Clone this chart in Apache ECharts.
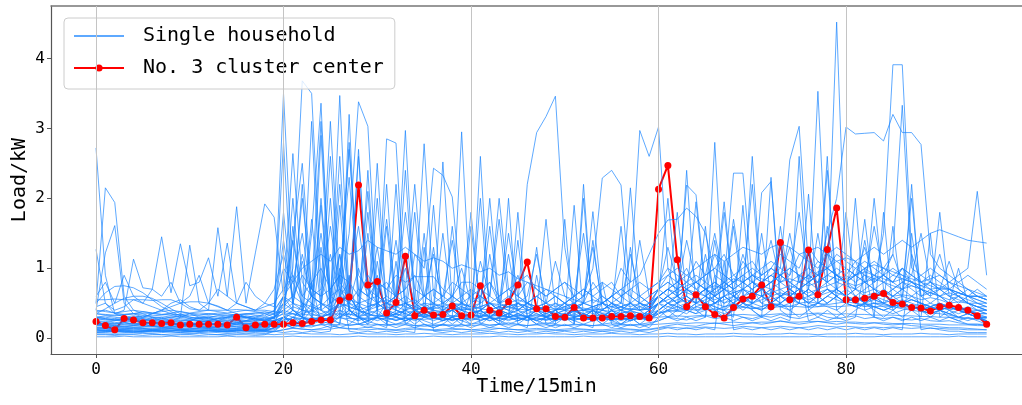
<!DOCTYPE html>
<html><head><meta charset="utf-8">
<script src="https://cdn.jsdelivr.net/npm/echarts@6/dist/echarts.min.js"></script>
<style>html,body{margin:0;padding:0;background:#fff}#c{width:1022px;height:405px}</style>
</head><body><div id="c"></div>
<script>
const xTicks = [0, 20, 40, 60, 80];
const yTicks = [0, 1, 2, 3, 4];
const seriesNames = ['Single household', 'No. 3 cluster center'];

const center = [
0.24,0.18,0.12,0.28,0.26,0.22,0.22,0.21,0.22,0.19,0.20,0.20,
0.20,0.20,0.19,0.30,0.15,0.19,0.20,0.20,0.20,0.22,0.21,0.24,
0.26,0.26,0.54,0.59,2.19,0.76,0.81,0.36,0.51,1.17,0.32,0.40,
0.33,0.34,0.46,0.32,0.33,0.75,0.40,0.36,0.52,0.76,1.09,0.42,
0.42,0.31,0.30,0.44,0.29,0.29,0.29,0.31,0.31,0.32,0.31,0.29,
2.13,2.47,1.12,0.45,0.62,0.45,0.34,0.29,0.44,0.56,0.60,0.76,
0.45,1.37,0.55,0.60,1.26,0.62,1.27,1.86,0.55,0.55,0.57,0.60,
0.64,0.51,0.49,0.44,0.43,0.39,0.45,0.47,0.44,0.40,0.32,0.20];

const hB1 = [0.02,0.02,0.02,0.03,0.02,0.02,0.02,0.02,0.03,0.02,0.02,0.02,0.02,0.02,0.03,0.02,0.02,0.02,0.02,0.02,0.02,0.03,0.02,0.02,0.02,0.02,0.02,0.02,0.03,0.02,0.02,0.02,0.02,0.02,0.02,0.02,0.03,0.02,0.02,0.02,0.02,0.02,0.02,0.03,0.02,0.02,0.02,0.02,0.02,0.02,0.02,0.02,0.03,0.02,0.02,0.02,0.02,0.02,0.02,0.02,0.02,0.03,0.02,0.02,0.02,0.02,0.02,0.02,0.03,0.02,0.02,0.02,0.02,0.02,0.02,0.02,0.02,0.03,0.02,0.02,0.02,0.02,0.02,0.02,0.03,0.02,0.02,0.02,0.02,0.02,0.02,0.02,0.03,0.02,0.02,0.02];
const hB2 = [0.06,0.06,0.05,0.06,0.06,0.07,0.06,0.05,0.06,0.06,0.06,0.07,0.06,0.05,0.06,0.06,0.07,0.06,0.06,0.05,0.06,0.06,0.07,0.06,0.06,0.06,0.05,0.06,0.07,0.06,0.06,0.06,0.05,0.06,0.06,0.07,0.06,0.06,0.05,0.06,0.06,0.06,0.07,0.06,0.06,0.05,0.06,0.06,0.07,0.06,0.06,0.05,0.06,0.06,0.06,0.07,0.06,0.06,0.05,0.06,0.06,0.07,0.06,0.06,0.05,0.06,0.06,0.06,0.07,0.06,0.06,0.05,0.06,0.06,0.07,0.06,0.06,0.05,0.06,0.06,0.06,0.07,0.06,0.06,0.05,0.06,0.06,0.06,0.07,0.06,0.06,0.05,0.06,0.06,0.06,0.06];
const hB3 = [0.12,0.11,0.1,0.1,0.09,0.09,0.1,0.1,0.11,0.1,0.1,0.09,0.09,0.1,0.1,0.11,0.12,0.11,0.1,0.1,0.12,0.14,0.13,0.12,0.12,0.13,0.15,0.14,0.12,0.12,0.13,0.12,0.11,0.12,0.13,0.12,0.11,0.11,0.12,0.13,0.12,0.11,0.12,0.14,0.13,0.12,0.11,0.12,0.12,0.11,0.11,0.12,0.12,0.11,0.1,0.11,0.12,0.12,0.11,0.12,0.14,0.16,0.15,0.14,0.15,0.16,0.15,0.14,0.15,0.17,0.16,0.15,0.16,0.17,0.16,0.15,0.16,0.18,0.17,0.16,0.17,0.16,0.15,0.16,0.15,0.16,0.15,0.14,0.15,0.14,0.14,0.13,0.13,0.12,0.12,0.12];
const hB4 = [0.55,0.55,0.56,0.55,0.55,0.55,0.54,0.55,0.55,0.5,0.42,0.4,0.4,0.4,0.4,0.41,0.4,0.4,0.4,0.38,0.36,0.35,0.34,0.33,0.33,0.34,0.35,0.34,0.33,0.33,0.32,0.33,0.34,0.33,0.32,0.32,0.33,0.32,0.32,0.31,0.32,0.33,0.32,0.32,0.31,0.32,0.32,0.33,0.32,0.32,0.33,0.32,0.31,0.32,0.32,0.33,0.32,0.32,0.31,0.32,0.36,0.38,0.4,0.42,0.4,0.41,0.42,0.4,0.42,0.44,0.43,0.42,0.44,0.45,0.46,0.45,0.44,0.45,0.46,0.45,0.46,0.47,0.46,0.45,0.46,0.45,0.44,0.45,0.44,0.43,0.42,0.42,0.41,0.4,0.4,0.4];
const hB5 = [0.28,0.27,0.27,0.26,0.26,0.25,0.26,0.26,0.25,0.25,0.26,0.25,0.25,0.25,0.24,0.25,0.25,0.26,0.25,0.25,0.26,0.27,0.28,0.27,0.27,0.28,0.29,0.28,0.28,0.27,0.28,0.28,0.27,0.28,0.27,0.27,0.28,0.27,0.27,0.28,0.27,0.27,0.28,0.28,0.27,0.28,0.27,0.27,0.27,0.28,0.27,0.27,0.28,0.27,0.27,0.27,0.28,0.27,0.27,0.28,0.3,0.31,0.32,0.31,0.32,0.33,0.32,0.32,0.33,0.34,0.33,0.33,0.34,0.35,0.34,0.34,0.35,0.36,0.35,0.34,0.35,0.34,0.34,0.33,0.33,0.33,0.32,0.32,0.31,0.31,0.3,0.3,0.29,0.29,0.28,0.28];
const hB6 = [0.18,0.18,0.17,0.17,0.18,0.17,0.17,0.16,0.17,0.17,0.16,0.17,0.17,0.16,0.16,0.17,0.17,0.16,0.17,0.18,0.18,0.19,0.18,0.18,0.19,0.2,0.19,0.19,0.2,0.19,0.19,0.2,0.19,0.19,0.18,0.19,0.19,0.18,0.19,0.19,0.18,0.19,0.19,0.2,0.19,0.19,0.18,0.19,0.19,0.18,0.18,0.19,0.19,0.18,0.18,0.19,0.19,0.18,0.19,0.19,0.2,0.21,0.22,0.21,0.22,0.22,0.21,0.22,0.23,0.22,0.22,0.23,0.23,0.24,0.23,0.23,0.24,0.24,0.23,0.24,0.23,0.23,0.22,0.22,0.22,0.21,0.21,0.21,0.2,0.2,0.2,0.19,0.19,0.19,0.18,0.18];
const hW1 = [0.5,0.65,0.74,0.75,0.72,0.65,0.55,0.45,0.38,0.32,0.28,0.25,0.22,0.2,0.2,0.22,0.24,0.22,0.2,0.21,0.25,0.3,0.28,0.26,0.3,0.35,0.5,0.45,0.4,0.35,0.32,0.3,0.35,0.4,0.35,0.3,0.28,0.3,0.32,0.3,0.28,0.3,0.35,0.32,0.3,0.28,0.3,0.32,0.3,0.28,0.27,0.3,0.32,0.3,0.28,0.27,0.28,0.3,0.29,0.28,0.35,0.45,0.5,0.55,0.5,0.45,0.5,0.55,0.6,0.55,0.5,0.55,0.6,0.65,0.6,0.55,0.6,0.65,0.7,0.65,0.6,0.55,0.6,0.65,0.6,0.55,0.5,0.55,0.5,0.45,0.5,0.45,0.4,0.4,0.35,0.35];
const hW2 = [0.35,0.42,0.5,0.57,0.6,0.6,0.57,0.5,0.42,0.35,0.3,0.28,0.27,0.28,0.3,0.32,0.3,0.28,0.27,0.3,0.45,0.6,0.5,0.45,0.4,0.5,0.6,0.55,0.5,0.45,0.5,0.55,0.5,0.45,0.4,0.42,0.4,0.38,0.4,0.42,0.4,0.38,0.36,0.4,0.45,0.5,0.45,0.4,0.38,0.36,0.35,0.38,0.4,0.38,0.36,0.35,0.36,0.38,0.36,0.35,0.5,0.6,0.7,0.65,0.6,0.7,0.75,0.7,0.65,0.7,0.8,0.75,0.7,0.8,0.85,0.8,0.75,0.8,0.9,0.85,0.8,0.75,0.8,0.85,0.8,0.75,0.7,0.75,0.7,0.65,0.6,0.65,0.6,0.55,0.5,0.5];
const hW3 = [0.3,0.28,0.26,0.25,0.27,0.3,0.35,0.4,0.45,0.5,0.52,0.52,0.5,0.46,0.4,0.35,0.3,0.28,0.26,0.28,0.35,0.45,0.4,0.38,0.45,0.6,0.7,0.5,0.45,0.4,0.45,0.5,0.45,0.4,0.45,0.5,0.48,0.45,0.42,0.4,0.42,0.45,0.5,0.48,0.45,0.42,0.4,0.42,0.45,0.42,0.4,0.38,0.4,0.42,0.4,0.38,0.4,0.42,0.4,0.42,0.5,0.55,0.6,0.7,0.65,0.6,0.55,0.6,0.65,0.7,0.65,0.6,0.65,0.7,0.75,0.7,0.65,0.7,0.75,0.8,0.75,0.7,0.65,0.7,0.65,0.6,0.62,0.6,0.55,0.58,0.55,0.5,0.52,0.5,0.45,0.45];
const hW4 = [0.15,0.14,0.12,0.13,0.15,0.14,0.12,0.13,0.14,0.12,0.13,0.15,0.14,0.12,0.13,0.14,0.15,0.13,0.12,0.14,0.18,0.2,0.17,0.16,0.2,0.25,0.22,0.18,0.2,0.24,0.2,0.18,0.2,0.22,0.18,0.17,0.18,0.2,0.18,0.17,0.2,0.22,0.18,0.2,0.22,0.2,0.18,0.2,0.22,0.2,0.18,0.2,0.19,0.18,0.2,0.22,0.2,0.19,0.2,0.22,0.25,0.3,0.28,0.26,0.3,0.32,0.28,0.3,0.34,0.3,0.28,0.32,0.3,0.34,0.3,0.28,0.32,0.35,0.3,0.28,0.3,0.32,0.28,0.3,0.28,0.3,0.27,0.26,0.28,0.25,0.24,0.25,0.22,0.2,0.2,0.18];
const hW5 = [0.38,0.4,0.36,0.34,0.35,0.38,0.36,0.34,0.36,0.38,0.35,0.33,0.34,0.36,0.35,0.33,0.34,0.36,0.38,0.35,0.4,0.5,0.45,0.6,0.5,0.45,0.8,0.6,0.5,0.55,0.6,0.5,0.45,0.5,0.55,0.45,0.42,0.45,0.5,0.48,0.45,0.42,0.4,0.45,0.5,0.55,0.5,0.45,0.42,0.4,0.42,0.45,0.43,0.4,0.42,0.45,0.44,0.42,0.4,0.42,0.6,0.7,0.65,0.75,0.8,0.7,0.65,0.75,0.85,0.8,0.9,0.85,0.8,0.9,1.0,0.9,0.85,0.95,1.0,0.9,0.85,0.9,0.95,0.9,0.85,0.8,0.85,0.8,0.75,0.7,0.72,0.7,0.65,0.6,0.6,0.55];
const hW6 = [0.08,0.09,0.1,0.09,0.08,0.1,0.11,0.1,0.09,0.08,0.09,0.1,0.11,0.1,0.09,0.1,0.11,0.12,0.1,0.09,0.12,0.15,0.13,0.12,0.14,0.18,0.15,0.13,0.14,0.16,0.14,0.13,0.12,0.14,0.15,0.13,0.12,0.13,0.14,0.13,0.12,0.13,0.15,0.14,0.13,0.12,0.13,0.14,0.13,0.12,0.13,0.14,0.13,0.12,0.12,0.13,0.14,0.13,0.12,0.13,0.15,0.18,0.2,0.18,0.17,0.2,0.22,0.2,0.18,0.2,0.22,0.2,0.22,0.25,0.22,0.2,0.22,0.24,0.22,0.2,0.22,0.21,0.2,0.22,0.2,0.19,0.2,0.18,0.17,0.18,0.16,0.15,0.15,0.14,0.13,0.12];
const hS1 = [2.72,0.9,0.35,0.3,0.28,0.25,0.3,0.25,0.22,0.2,0.25,0.3,0.28,0.25,0.22,0.2,0.25,0.3,0.35,0.3,0.4,1.4,0.6,0.5,0.3,0.35,1.2,0.4,0.3,0.35,0.9,0.3,0.25,0.3,0.4,0.3,0.35,0.3,0.25,0.3,0.35,0.4,0.3,0.25,0.3,0.35,0.3,0.25,0.3,0.35,0.3,0.25,0.3,0.4,0.35,0.3,0.25,0.3,0.35,0.3,0.4,0.5,0.45,0.4,0.35,0.5,0.45,0.4,0.6,0.5,0.45,0.4,0.5,0.6,0.55,0.5,0.45,0.5,0.6,0.55,0.5,0.45,0.5,0.45,0.4,0.45,0.5,0.45,0.4,0.35,0.4,0.45,0.4,0.35,0.3,0.3];
const hS2 = [0.5,2.15,1.94,0.6,0.4,0.35,0.3,0.3,0.25,0.3,0.35,0.3,0.3,0.25,0.3,0.35,0.3,0.25,0.3,0.35,3.5,0.8,0.5,0.4,0.35,0.4,0.5,0.6,0.4,0.35,0.3,2.85,2.79,0.5,0.4,0.35,0.3,0.35,0.4,0.3,0.35,0.3,0.4,0.35,0.3,0.5,0.4,0.35,0.3,0.35,0.4,0.3,0.35,0.3,0.4,0.5,0.4,0.35,0.3,0.4,0.5,0.45,0.4,0.5,0.6,0.5,0.45,0.4,0.5,0.6,0.7,0.5,0.45,0.5,0.6,0.5,0.45,0.5,0.6,0.7,0.6,0.5,0.45,0.5,0.45,0.4,0.5,0.45,0.4,0.45,0.5,0.45,0.4,0.35,0.4,0.35];
const hS3 = [1.27,0.5,0.35,0.4,1.13,0.72,0.7,1.45,0.65,1.35,0.75,0.8,1.15,0.6,1.36,0.5,0.45,0.4,0.5,0.45,1.0,0.8,1.5,0.6,0.5,1.2,0.6,0.8,1.6,0.7,0.5,0.6,1.4,0.5,0.45,0.6,0.5,0.45,0.6,0.5,0.45,1.1,0.6,0.5,0.55,0.9,0.5,0.45,0.5,0.6,0.5,0.45,0.5,0.8,0.6,0.5,0.45,0.5,0.6,0.5,0.7,0.9,0.8,1.0,0.7,0.8,1.2,0.9,0.8,1.1,0.9,0.8,1.0,0.9,1.3,0.8,0.9,1.1,1.0,0.9,0.8,1.0,0.9,0.85,0.9,0.8,1.0,0.9,0.8,0.85,0.9,0.8,0.75,0.7,0.65,0.6];
const hS4 = [0.4,1.22,1.61,0.5,0.35,0.3,0.35,0.4,0.35,0.3,1.33,0.5,0.4,1.58,0.6,1.88,0.5,1.22,1.92,1.73,0.6,1.4,2.5,0.7,3.1,0.6,0.5,2.8,0.6,0.5,0.45,0.5,0.6,0.5,0.45,0.4,0.45,0.5,0.45,0.4,0.5,0.6,0.5,0.45,0.4,0.5,0.45,0.4,0.45,0.5,0.4,0.45,0.5,0.45,0.4,0.5,0.45,0.4,0.45,0.5,0.6,0.5,0.55,0.6,0.5,0.55,0.6,0.5,0.55,0.6,0.65,0.6,0.55,0.6,0.65,0.6,0.55,0.6,0.65,0.7,0.6,0.55,0.6,0.55,0.5,0.55,0.6,0.55,0.5,0.45,0.5,0.45,0.4,0.45,0.4,0.35];
const hS5 = [0.2,0.18,0.15,0.16,0.18,0.2,0.17,0.15,0.16,0.18,0.2,0.17,0.15,0.16,0.18,0.2,0.17,0.15,0.16,0.2,0.5,1.0,3.68,3.5,0.8,0.5,2.2,0.6,0.4,1.8,0.5,0.4,0.35,0.5,0.4,0.35,0.3,0.35,0.4,0.3,0.35,0.3,1.2,0.4,0.3,0.35,0.3,0.4,0.3,0.35,0.3,0.4,0.35,0.3,0.35,0.3,0.4,0.35,0.3,0.35,0.5,0.6,0.5,0.7,0.6,0.5,1.4,0.6,0.5,0.7,0.6,0.5,0.6,1.6,0.7,0.6,0.5,0.6,0.7,0.6,0.5,0.6,0.5,0.55,0.5,0.45,0.5,0.55,0.5,0.45,0.4,0.45,0.4,0.35,0.3,0.3];
const hS6 = [0.1,0.1,0.12,0.1,0.09,0.1,0.11,0.1,0.1,0.12,0.1,0.1,0.11,0.1,0.1,0.12,0.1,0.1,0.11,0.2,0.6,0.4,0.3,1.5,3.36,0.5,3.47,0.6,0.4,0.3,2.0,0.4,0.3,0.25,0.3,0.35,0.3,0.25,0.3,2.95,0.4,0.3,0.25,0.3,0.35,0.3,0.25,0.3,0.25,0.3,0.35,0.3,0.25,0.3,0.3,0.25,0.3,0.35,0.3,0.25,0.4,0.5,0.4,0.35,0.45,0.5,0.4,0.35,0.4,0.5,0.45,0.4,0.5,0.45,0.4,0.5,2.06,0.5,0.45,0.4,0.5,0.45,0.4,0.45,0.4,0.35,0.4,0.45,0.4,0.35,0.4,0.35,0.3,0.35,0.3,0.25];
const hS7 = [0.25,0.22,0.2,0.22,0.25,0.22,0.2,0.22,0.25,0.22,0.2,0.22,0.25,0.22,0.2,0.22,0.25,0.22,0.2,0.25,1.8,0.5,0.4,0.6,0.5,0.4,0.6,1.5,3.38,3.03,0.6,0.5,0.6,2.97,0.5,0.4,0.45,0.4,0.5,0.45,0.4,0.5,2.0,0.5,0.45,0.4,0.5,0.45,0.4,0.5,0.45,0.4,0.5,1.81,0.5,0.45,0.4,0.5,0.45,0.4,0.6,0.7,0.6,2.19,2.05,0.7,0.6,0.7,0.8,0.7,0.6,0.7,0.8,0.7,0.6,0.7,0.8,0.7,0.8,0.9,0.8,0.7,0.8,0.7,0.6,0.7,0.8,0.7,0.6,0.65,0.6,0.55,0.6,0.5,0.45,0.4];
const hS8 = [0.3,0.32,0.3,0.28,0.3,0.32,0.3,0.28,0.3,0.32,0.3,0.28,0.3,0.32,0.3,0.28,0.3,0.32,0.3,0.28,0.6,0.5,1.2,0.6,0.5,2.6,0.6,0.5,0.7,0.6,0.5,0.6,0.5,0.6,0.5,2.78,0.6,0.5,0.6,0.5,0.45,0.5,0.6,1.7,0.5,0.45,0.5,0.6,0.5,0.45,0.5,0.6,0.5,0.45,0.5,0.6,0.5,2.15,0.5,0.45,0.7,0.6,0.7,0.8,0.7,0.6,0.7,0.8,2.36,2.36,0.8,0.7,0.8,0.9,0.8,0.7,0.8,0.9,0.8,0.7,0.8,0.9,0.8,0.7,0.8,0.7,0.8,0.75,0.7,0.65,0.7,0.6,0.65,0.6,0.55,0.5];
const hS9 = [0.15,0.14,0.13,0.14,0.15,0.14,0.13,0.14,0.15,0.14,0.13,0.14,0.15,0.14,0.13,0.14,0.15,0.14,0.13,0.2,0.3,0.25,0.2,0.3,0.25,0.3,1.0,0.4,0.3,0.25,0.3,0.5,0.4,0.35,1.2,1.0,2.43,2.33,2.02,0.6,0.4,0.35,0.3,0.4,0.35,0.5,2.2,2.94,3.17,3.46,1.3,0.5,0.4,0.35,0.4,0.35,0.3,0.4,0.35,0.3,0.5,0.4,0.45,0.5,0.4,0.45,0.5,0.6,0.5,0.45,0.5,0.6,0.5,0.45,0.5,0.6,0.5,0.45,0.5,0.6,0.5,0.45,0.5,0.45,0.4,0.45,0.5,0.45,0.4,0.35,0.4,0.35,0.3,0.35,0.3,0.25];
const hS10 = [0.2,0.2,0.18,0.2,0.22,0.2,0.18,0.2,0.22,0.2,0.18,0.2,0.22,0.2,0.18,0.2,0.22,0.2,0.18,0.2,0.25,0.4,0.3,0.25,1.9,0.4,0.3,0.35,2.7,0.4,0.35,0.3,0.4,0.35,0.3,0.35,0.4,2.52,0.5,0.4,0.35,0.4,0.5,0.4,0.35,0.4,0.35,0.4,0.35,0.4,0.45,0.5,0.6,1.0,2.29,2.4,2.19,0.6,0.5,0.45,0.6,0.5,0.6,0.7,0.6,0.5,0.6,0.7,0.6,0.5,2.6,0.6,0.7,0.6,0.5,0.6,0.7,0.6,0.5,0.6,0.7,0.6,0.5,0.6,0.55,0.5,0.55,0.5,0.45,0.5,0.45,0.4,0.45,0.4,0.35,0.35];
const hS11 = [0.12,0.12,0.11,0.12,0.13,0.12,0.11,0.12,0.13,0.12,0.11,0.12,0.13,0.12,0.11,0.12,0.13,0.12,0.11,0.12,0.2,0.3,0.25,0.4,0.3,0.25,0.35,0.3,0.5,0.3,0.25,0.3,0.35,0.3,0.25,0.3,0.35,0.3,0.25,0.3,0.35,0.3,0.25,0.3,0.35,0.3,0.25,0.3,0.35,0.3,0.25,0.3,0.35,0.3,0.5,0.6,1.0,0.8,2.97,2.6,3.02,1.0,0.6,0.5,0.6,0.7,0.5,0.6,0.7,0.5,0.6,0.7,0.6,0.5,0.6,0.7,0.6,0.5,0.6,0.7,0.6,0.5,0.6,0.5,0.5,0.45,0.5,0.45,0.4,0.45,0.4,0.35,0.4,0.35,0.3,0.3];
const hS12 = [0.25,0.24,0.22,0.24,0.25,0.24,0.22,0.24,0.25,0.24,0.22,0.24,0.25,0.24,0.22,0.24,0.25,0.24,0.22,0.3,0.4,0.35,0.3,0.5,0.4,0.35,0.5,0.45,0.4,0.35,0.4,0.45,0.4,0.35,0.4,0.45,0.4,0.35,0.4,0.45,0.4,0.35,0.4,0.45,0.4,0.35,0.4,0.45,0.4,0.35,0.4,0.45,0.4,0.45,0.5,0.6,0.7,0.8,0.9,1.2,1.5,1.69,1.7,1.86,1.74,1.5,0.9,0.8,0.7,0.8,0.9,0.8,0.9,1.0,2.55,3.03,1.0,0.9,0.8,0.9,1.0,0.9,0.8,0.9,0.8,0.9,0.85,0.8,0.75,0.8,0.75,0.7,0.65,0.6,0.6,0.55];
const hS13 = [0.18,0.17,0.16,0.17,0.18,0.17,0.16,0.17,0.18,0.17,0.16,0.17,0.18,0.17,0.16,0.17,0.18,0.17,0.16,0.2,0.3,0.25,0.2,0.25,0.3,0.25,0.3,0.4,0.3,0.25,0.3,0.35,0.3,0.25,0.3,0.35,0.3,0.25,0.3,0.35,0.3,0.25,0.3,0.35,0.3,0.25,0.3,0.35,0.3,0.25,0.3,0.35,0.3,0.25,0.3,0.35,0.3,0.25,0.3,0.35,0.4,0.5,0.45,0.4,0.5,0.6,0.5,0.45,0.5,0.6,0.5,0.45,0.5,0.6,0.5,0.6,0.7,3.53,0.8,4.52,0.8,0.6,0.5,0.6,0.5,0.6,0.5,0.45,0.5,0.45,0.4,0.45,0.4,0.35,0.3,0.3];
const hS14 = [0.3,0.3,0.28,0.3,0.32,0.3,0.28,0.3,0.32,0.3,0.28,0.3,0.32,0.3,0.28,0.3,0.32,0.3,0.28,0.3,0.5,0.4,0.35,0.4,0.5,0.4,0.45,0.5,0.4,0.45,0.5,0.4,0.45,0.5,0.4,0.45,0.5,0.4,0.45,0.5,0.4,0.45,0.5,0.4,0.45,0.5,0.4,0.45,0.5,0.4,0.45,0.5,0.4,0.45,0.5,0.4,0.45,0.5,0.4,0.45,0.6,0.7,0.6,0.7,0.8,0.7,0.6,0.7,0.8,0.9,0.8,0.7,0.8,0.9,1.0,0.9,0.8,0.9,1.5,2.0,3.02,2.92,2.93,2.94,2.82,3.2,2.94,2.94,2.77,1.2,1.0,0.9,0.8,0.9,0.8,0.7];
const hS15 = [0.1,0.1,0.09,0.1,0.11,0.1,0.09,0.1,0.11,0.1,0.09,0.1,0.11,0.1,0.09,0.1,0.11,0.1,0.09,0.15,0.3,0.2,0.15,0.2,0.25,0.2,0.3,0.25,0.2,0.25,0.3,0.25,0.2,0.25,0.3,0.25,0.2,0.25,0.3,0.25,0.2,0.25,0.3,0.25,0.2,0.25,0.3,0.25,0.2,0.25,0.3,0.25,0.2,0.25,0.3,0.25,0.2,0.25,0.3,0.25,0.35,0.4,0.5,0.4,0.35,0.4,0.5,0.6,0.5,0.4,0.5,0.6,0.5,0.6,0.7,0.6,0.5,0.6,0.7,0.6,0.5,0.6,0.7,0.8,1.5,3.91,3.91,1.2,0.8,0.7,0.6,0.7,0.6,0.5,0.45,0.4];
const hS16 = [0.22,0.2,0.2,0.22,0.21,0.2,0.22,0.21,0.2,0.22,0.21,0.2,0.22,0.21,0.2,0.22,0.21,0.2,0.22,0.3,0.35,0.3,0.4,0.35,0.3,0.4,0.5,0.4,0.35,0.4,0.5,0.4,0.35,0.4,0.5,0.4,0.35,0.4,0.5,0.4,0.35,0.4,0.5,0.4,0.35,0.4,0.5,0.4,0.35,0.4,0.5,0.4,0.35,0.4,0.5,0.4,0.35,0.4,0.5,0.4,0.6,0.7,0.8,0.7,0.6,0.7,0.8,0.7,0.6,0.7,0.8,0.7,0.8,0.9,0.8,0.7,0.8,0.9,1.0,0.9,0.8,0.9,1.0,0.9,1.0,1.2,3.33,1.0,0.9,1.0,0.9,0.8,0.9,1.0,2.1,0.9];
const hS17 = [0.14,0.13,0.12,0.13,0.14,0.13,0.12,0.13,0.14,0.13,0.12,0.13,0.14,0.13,0.12,0.13,0.14,0.13,0.12,0.2,0.25,1.6,0.3,0.25,0.3,0.25,0.4,0.3,0.25,2.4,0.3,0.25,0.3,0.25,0.3,1.5,0.3,0.25,0.3,0.25,0.3,2.0,0.3,0.25,0.3,0.25,0.3,0.25,0.3,0.25,0.3,1.9,0.3,0.25,0.3,0.25,0.3,0.25,0.3,0.25,0.4,0.5,0.6,0.5,0.6,0.7,0.6,0.8,0.7,0.8,0.9,1.0,1.1,1.0,0.9,1.2,1.1,1.0,1.2,1.3,1.2,1.1,1.2,1.3,1.2,1.3,1.4,1.3,1.4,1.5,1.55,1.5,1.45,1.4,1.38,1.36];
const hS18 = [0.35,0.34,0.33,0.34,0.35,0.36,0.35,0.34,0.33,0.34,0.35,0.36,0.35,0.34,0.33,0.34,0.35,0.36,0.35,0.34,0.5,0.6,0.9,0.7,0.6,0.7,0.9,2.3,0.7,0.6,0.8,0.7,0.9,0.8,0.88,0.88,0.88,0.7,0.6,0.8,0.8,0.7,0.6,2.0,0.7,0.6,0.8,0.7,0.6,0.7,0.8,0.7,0.6,0.7,0.8,0.7,0.6,0.7,0.8,0.7,0.8,0.9,1.0,0.9,0.8,0.9,1.0,0.9,0.8,0.9,1.0,0.9,1.0,0.9,0.8,0.9,1.0,0.9,1.0,1.1,1.0,0.9,1.0,1.1,1.0,0.9,1.0,0.9,0.8,0.9,0.8,0.7,0.8,0.7,0.6,0.6];
const hS19 = [0.08,0.08,0.07,0.08,0.09,0.08,0.07,0.08,0.09,0.08,0.07,0.08,0.09,0.08,0.07,0.08,0.09,0.08,0.07,0.1,0.2,0.15,0.3,0.2,1.3,0.2,0.15,0.2,0.3,0.2,1.1,0.2,0.15,0.2,0.3,0.2,0.15,0.2,0.3,0.2,0.15,0.2,0.3,0.2,2.0,0.2,0.3,0.2,0.15,0.2,1.7,0.2,2.2,0.3,0.2,0.15,0.2,0.3,0.2,0.15,0.3,0.4,0.3,0.4,0.5,1.6,0.4,0.3,0.4,0.5,0.4,0.3,0.4,0.5,0.4,0.3,0.4,0.5,2.6,0.4,0.3,0.4,0.5,0.4,0.3,0.4,0.5,2.2,0.4,0.3,0.4,0.3,0.25,0.3,0.25,0.2];
const hS20 = [0.4,0.38,0.36,0.38,0.4,0.38,0.36,0.38,0.4,0.38,0.36,0.38,0.4,0.38,0.36,0.38,0.4,0.38,0.36,0.38,0.6,2.64,0.8,0.6,0.7,3.1,0.8,2.7,0.9,0.7,0.8,0.7,0.6,1.8,0.7,0.6,0.7,0.6,0.5,0.6,0.7,0.6,0.5,0.6,0.7,0.6,0.5,0.6,0.7,0.6,0.5,0.6,0.7,0.6,0.5,0.6,0.7,0.6,0.5,0.6,0.7,0.8,0.7,0.8,0.9,0.8,0.7,0.8,0.9,0.8,0.7,0.8,0.9,0.8,0.7,0.8,0.9,0.8,0.9,1.0,0.9,0.8,0.9,0.8,0.9,0.8,0.7,0.8,0.7,0.6,0.7,0.6,0.55,0.5,0.5,0.45];
const hS21 = [0.2,0.19,0.18,0.19,0.2,0.19,0.18,0.19,0.2,0.19,0.18,0.19,0.2,0.19,0.18,0.19,0.2,0.19,0.18,0.25,0.3,0.25,0.5,0.3,0.25,0.3,0.5,0.3,0.25,0.3,0.4,0.3,0.25,0.3,0.4,0.3,0.25,0.3,0.4,0.3,0.25,0.3,0.4,0.3,0.25,0.3,0.4,1.3,0.3,0.25,0.3,0.4,0.3,0.25,0.3,0.4,0.3,0.25,0.3,0.4,0.5,0.6,0.5,0.6,1.95,0.6,0.5,0.6,1.6,0.6,0.5,2.08,2.24,0.6,0.7,0.6,0.7,1.5,0.7,0.6,1.8,0.7,0.6,2.0,0.7,0.6,0.7,0.6,0.7,0.6,1.8,0.6,0.5,0.6,0.5,0.45];
const hS22 = [0.3,0.28,0.26,0.28,0.3,0.28,0.26,0.28,0.3,0.28,0.26,0.28,0.3,0.28,0.26,0.28,0.3,0.28,0.26,0.3,1.4,0.5,1.1,0.6,1.5,0.6,1.2,0.5,1.0,0.6,1.3,0.5,0.6,1.0,0.5,0.6,1.2,0.5,0.6,1.0,0.5,0.6,0.8,0.5,1.5,0.6,0.5,0.6,0.5,1.1,0.6,0.5,0.6,1.3,0.5,0.6,0.5,1.2,0.6,0.5,0.7,1.3,0.8,0.7,0.8,0.9,1.5,0.8,0.7,1.2,0.8,0.9,1.4,0.8,0.9,1.8,0.8,0.9,1.3,0.8,0.9,1.1,0.8,1.6,0.9,1.2,0.8,0.9,1.5,0.8,0.7,1.1,0.7,0.6,0.7,0.6];
const hS23 = [0.16,0.15,0.14,0.15,0.16,0.15,0.14,0.15,0.16,0.15,0.14,0.15,0.16,0.15,0.14,0.15,0.16,0.15,0.14,0.2,0.3,0.4,0.3,1.7,0.4,2.0,0.3,0.4,0.3,1.5,0.4,2.2,0.3,0.4,0.3,0.4,1.3,0.4,0.3,0.4,1.6,0.4,0.3,0.4,0.3,1.4,0.3,0.4,0.3,0.4,0.3,0.4,0.3,0.4,0.3,0.4,1.6,0.4,0.3,0.4,0.5,0.6,1.8,0.6,0.5,0.6,0.7,1.95,0.6,0.5,0.6,0.7,0.6,1.37,0.6,0.7,0.6,0.7,1.6,0.7,0.6,0.7,1.4,0.7,0.6,0.7,0.6,1.5,0.6,0.5,0.6,0.5,1.0,0.5,0.4,0.4];
const hS24 = [0.12,0.1,0.1,0.12,0.1,0.1,0.12,0.1,0.1,0.12,0.1,0.1,0.12,0.1,0.1,0.12,0.1,0.1,0.12,0.15,0.2,0.15,0.2,0.8,0.2,0.15,0.2,0.9,0.2,0.15,0.2,0.15,1.1,0.2,0.15,0.2,0.15,0.2,0.15,0.2,0.7,0.2,0.15,0.2,0.15,0.2,0.15,0.9,0.2,0.15,0.2,0.15,0.2,0.15,0.8,0.2,0.15,0.2,0.15,0.2,0.25,0.3,0.25,0.3,0.25,0.3,0.9,0.3,0.25,0.3,0.25,0.3,0.25,0.3,0.25,0.9,0.25,0.3,0.25,0.3,0.25,0.3,1.0,0.3,0.25,0.3,0.25,0.3,0.25,0.3,0.25,0.3,0.25,0.2,0.2,0.2];
const hS25 = [0.6,0.8,0.5,0.9,0.6,0.5,0.7,0.6,0.8,0.5,0.6,0.9,0.5,0.7,0.6,0.5,0.8,0.6,0.5,0.7,1.2,0.6,2.0,0.7,0.6,1.6,0.7,0.6,2.6,0.7,0.6,1.7,0.6,0.7,2.2,0.6,0.5,0.6,1.4,0.5,0.6,0.5,1.6,0.5,0.6,0.5,0.6,1.2,0.5,0.6,0.5,0.6,1.5,0.5,0.6,0.5,0.6,0.5,1.4,0.6,0.7,0.8,0.7,1.4,0.8,0.7,0.8,0.7,1.7,0.8,0.7,0.8,0.9,0.8,1.5,0.8,0.9,0.8,1.2,0.9,0.8,0.9,1.3,0.8,0.9,0.8,1.0,0.8,0.7,0.8,1.2,0.7,0.6,0.7,0.6,0.55];
const hS26 = [0.22,0.2,0.21,0.22,0.2,0.21,0.22,0.2,0.21,0.22,0.2,0.21,0.22,0.2,0.21,0.22,0.2,0.21,0.22,0.25,0.3,2.0,0.4,3.1,0.4,0.3,1.9,0.4,0.3,0.4,2.5,0.4,0.3,0.4,1.8,0.4,0.3,0.4,1.6,0.4,0.3,0.4,0.3,0.4,1.2,0.4,0.3,0.4,0.3,0.4,0.3,0.4,0.3,0.4,0.3,0.4,0.3,1.3,0.4,0.3,0.5,0.6,0.5,0.6,0.5,1.2,0.6,0.5,0.6,0.5,0.6,1.5,0.6,0.5,0.6,0.5,1.3,0.6,0.5,0.6,0.5,0.6,0.5,0.6,0.5,1.6,0.5,0.6,0.5,0.4,0.5,0.4,0.35,0.4,0.35,0.3];
const hS27 = [0.35,0.33,0.32,0.33,0.35,0.33,0.32,0.33,0.35,0.33,0.32,0.33,0.35,0.33,0.32,0.33,0.35,0.33,0.32,0.4,0.6,0.8,1.0,1.1,1.2,1.1,1.3,1.2,1.25,1.4,1.3,1.25,1.2,1.3,1.2,1.1,1.15,1.1,1.0,1.05,1.0,0.95,1.0,0.9,0.95,0.85,0.8,0.75,0.7,0.65,0.6,0.55,0.5,0.55,0.5,0.45,0.5,0.45,0.5,0.45,0.6,0.7,0.8,0.9,1.0,1.1,1.2,1.1,1.2,1.3,1.25,1.2,1.3,1.35,1.3,1.2,1.25,1.3,1.2,1.1,1.15,1.1,1.0,1.05,1.0,0.95,0.9,0.85,0.8,0.75,0.7,0.7,0.65,0.6,0.55,0.5];
const hS28 = [0.12,0.11,0.1,0.11,0.12,0.11,0.1,0.11,0.12,0.11,0.1,0.11,0.12,0.11,0.1,0.11,0.12,0.11,0.1,0.15,0.2,0.3,0.2,0.3,2.9,0.3,0.2,3.2,0.3,0.2,0.3,0.2,2.2,0.3,0.2,0.3,1.9,0.3,0.2,0.3,0.2,2.6,0.3,0.2,0.3,1.8,0.3,0.2,0.3,0.2,0.3,0.2,2.0,0.3,0.2,0.3,0.2,0.3,0.2,0.3,0.4,0.3,0.4,2.4,0.4,0.3,2.8,0.4,0.3,1.9,0.4,0.3,2.3,0.4,0.3,2.6,0.4,0.3,0.4,0.3,0.4,2.0,0.4,0.3,1.8,0.4,0.3,0.4,0.3,1.5,0.3,0.4,0.3,0.25,0.3,0.25];
const hS29 = [0.45,0.5,0.4,0.45,0.55,0.5,0.45,0.4,0.5,0.55,0.45,0.4,0.5,0.45,0.4,0.5,0.45,0.4,0.45,0.5,0.7,0.9,0.6,0.8,1.0,0.7,0.9,0.8,0.6,0.9,0.7,0.8,0.6,0.7,0.9,0.6,0.7,0.6,0.8,0.7,0.6,0.7,0.8,0.6,0.7,0.8,0.9,0.7,0.6,0.7,0.8,0.6,0.7,0.6,0.7,0.8,0.6,0.7,0.6,0.7,0.8,1.0,0.9,0.8,1.1,0.9,1.0,1.2,0.9,1.0,1.1,0.9,1.0,1.2,1.1,1.0,1.3,1.1,1.0,1.2,1.1,1.0,1.1,1.0,0.9,1.0,0.9,0.8,0.9,0.8,0.7,0.8,0.7,0.6,0.6,0.55];
const hS30 = [0.28,0.26,0.25,0.26,0.28,0.26,0.25,0.26,0.28,0.26,0.25,0.26,0.28,0.26,0.25,0.26,0.28,0.26,0.25,0.3,2.8,0.4,2.2,0.4,2.0,0.5,2.6,0.4,0.5,2.1,0.4,1.6,0.4,2.4,0.4,0.5,0.4,1.5,0.4,0.5,1.8,0.4,0.5,0.4,0.5,0.4,0.5,0.4,1.7,0.4,0.5,0.4,0.5,1.4,0.4,0.5,0.4,0.5,0.4,0.5,0.6,2.0,0.6,0.5,0.6,0.7,0.6,1.8,0.6,0.7,2.2,0.6,0.7,0.6,0.7,0.6,0.7,0.6,2.4,0.7,0.6,0.7,1.7,0.6,0.7,0.6,0.7,2.0,0.6,0.7,0.6,0.5,0.6,0.5,0.45,0.4];
const hS31 = [0.2,0.22,0.25,0.28,0.3,0.28,0.25,0.22,0.2,0.18,0.2,0.22,0.25,0.28,0.3,0.32,0.3,0.27,0.25,0.25,0.3,0.35,0.3,0.28,0.3,0.35,0.4,0.35,0.3,0.28,0.3,0.32,0.3,0.28,0.3,0.32,0.3,0.28,0.27,0.28,0.3,0.32,0.3,0.28,0.3,0.33,0.3,0.28,0.27,0.28,0.3,0.28,0.27,0.28,0.3,0.28,0.27,0.28,0.3,0.28,0.35,0.4,0.38,0.4,0.45,0.42,0.4,0.45,0.48,0.45,0.42,0.45,0.5,0.48,0.45,0.5,0.52,0.5,0.48,0.5,0.52,0.5,0.48,0.5,0.48,0.45,0.42,0.4,0.38,0.36,0.35,0.33,0.3,0.28,0.27,0.25];
const hS32 = [0.05,0.05,0.04,0.05,0.05,0.04,0.05,0.05,0.04,0.05,0.05,0.04,0.05,0.05,0.04,0.05,0.05,0.04,0.05,0.1,0.08,0.1,0.08,0.1,0.08,0.1,0.9,0.1,0.08,0.1,0.08,0.1,0.08,0.1,0.08,1.3,0.1,0.08,0.1,0.08,0.1,0.08,0.1,0.08,0.1,0.08,0.1,0.08,0.1,0.08,0.1,0.08,0.1,0.08,0.1,0.08,0.1,0.08,0.1,0.08,0.12,0.15,0.12,0.15,0.12,0.15,0.12,1.1,0.12,0.15,0.12,0.15,0.12,0.15,0.12,0.15,0.12,0.15,0.12,0.15,0.12,0.15,0.12,0.15,0.12,0.15,0.12,1.2,0.12,0.15,0.12,0.1,0.1,0.08,0.08,0.08];

const households = [hB1,hB2,hB3,hB4,hB5,hB6,hW1,hW2,hW3,hW4,hW5,hW6,
  hS1,hS2,hS3,hS4,hS5,hS6,hS7,hS8,hS9,hS10,hS11,hS12,hS13,hS14,hS15,hS16,
  hS17,hS18,hS19,hS20,hS21,hS22,hS23,hS24,hS25,hS26,hS27,hS28,hS29,hS30,hS31,hS32];

const FONT = '"DejaVu Sans Mono", monospace';
const BLUE = 'rgba(25,132,255,0.7)';
const toXY = arr => arr.map((v, i) => [i, v]);

const series = [{
  name: seriesNames[1], type: 'line', data: toXY(center),
  symbol: 'circle', symbolSize: 7, showSymbol: true,
  lineStyle: { color: '#ff0000', width: 2 }, itemStyle: { color: '#ff0000' },
  z: 2, silent: true,
  markLine: {
    silent: true, symbol: 'none', label: { show: false },
    lineStyle: { color: '#c4c4c4', width: 1, type: 'solid' },
    data: xTicks.map(v => ({ xAxis: v }))
  }
}];
households.forEach(h => series.push({
  name: seriesNames[0], type: 'line', data: toXY(h),
  symbol: 'none', silent: true, z: 2,
  lineStyle: { color: BLUE, width: 1 },
  itemStyle: { color: BLUE }
}));

const chart = echarts.init(document.getElementById('c'), null, { renderer: 'canvas' });
chart.setOption({
  animation: false,
  grid: { left: 51, top: 6, right: 0, bottom: 51, containLabel: false, outerBoundsMode: 'none', show: false },
  legend: {
    data: [
      { name: seriesNames[0], itemStyle: { opacity: 0 } },
      { name: seriesNames[1] }
    ],
    orient: 'vertical', left: 64, top: 18,
    itemWidth: 50, itemHeight: 9, itemGap: 12, padding: [8, 11, 11, 9],
    backgroundColor: 'rgba(255,255,255,0.8)', borderColor: '#cccccc', borderWidth: 1, borderRadius: 4,
    textStyle: { fontFamily: FONT, fontSize: 20, color: '#000', padding: [0, 0, 0, 14] }
  },
  xAxis: [{
    type: 'value', min: -4.8, max: 98.77,
    name: 'Time/15min', nameLocation: 'middle', nameGap: 23, nameMoveOverlap: false,
    nameTextStyle: { fontFamily: FONT, fontSize: 20, color: '#000' },
    axisLine: { show: true, onZero: false, lineStyle: { color: '#555', width: 1.2 } },
    axisTick: { show: true, customValues: xTicks, length: 4, lineStyle: { color: '#555' } },
    axisLabel: { customValues: xTicks, fontFamily: FONT, fontSize: 16, color: '#000', margin: 8 },
    splitLine: { show: false }
  }, {
    type: 'value', position: 'top', min: -4.8, max: 98.77,
    axisLine: { show: true, onZero: false, lineStyle: { color: '#777', width: 1.5 } },
    axisTick: { show: false }, axisLabel: { show: false }, splitLine: { show: false }
  }],
  yAxis: {
    type: 'value', min: -0.226, max: 4.75,
    name: 'Load/kW', nameLocation: 'middle', nameGap: 21, nameMoveOverlap: false,
    nameTextStyle: { fontFamily: FONT, fontSize: 20, color: '#000' },
    axisLine: { show: true, onZero: false, lineStyle: { color: '#555', width: 1.2 } },
    axisTick: { show: true, customValues: yTicks, length: 4, lineStyle: { color: '#555' } },
    axisLabel: { customValues: yTicks, fontFamily: FONT, fontSize: 16, color: '#000', margin: 6 },
    splitLine: { show: false }
  },
  series: series
});
</script></body></html>
